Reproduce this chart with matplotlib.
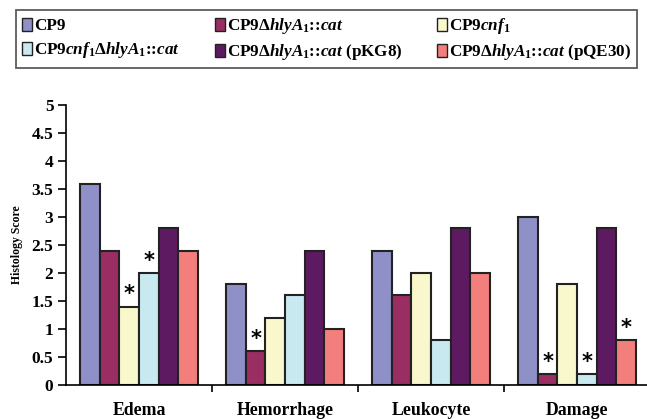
import numpy as np
import matplotlib.pyplot as plt
from matplotlib.patches import Patch

plt.rcParams['font.family'] = 'Liberation Serif'
plt.rcParams['font.weight'] = 'bold'
plt.rcParams['axes.labelweight'] = 'bold'
plt.rcParams['mathtext.fontset'] = 'custom'
plt.rcParams['mathtext.rm'] = 'Liberation Serif:bold'
plt.rcParams['mathtext.it'] = 'Liberation Serif:italic:bold'
plt.rcParams['mathtext.bf'] = 'Liberation Serif:bold'

categories = ["Edema", "Hemorrhage", "Leukocyte", "Damage"]
strains = [
    r"CP9",
    r"CP9$\Delta\mathit{hlyA}_1$::$\mathit{cat}$",
    r"CP9$\mathit{cnf}_1$",
    r"CP9$\mathit{cnf}_1\Delta\mathit{hlyA}_1$::$\mathit{cat}$",
    r"CP9$\Delta\mathit{hlyA}_1$::$\mathit{cat}$ (pKG8)",
    r"CP9$\Delta\mathit{hlyA}_1$::$\mathit{cat}$ (pQE30)",
]
scores = [
    [3.6, 1.8, 2.4, 3.0],
    [2.4, 0.6, 1.6, 0.2],
    [1.4, 1.2, 2.0, 1.8],
    [2.0, 1.6, 0.8, 0.2],
    [2.8, 2.4, 2.8, 2.8],
    [2.4, 1.0, 2.0, 0.8],
]
# (category, strain) pairs marked significant
significant = [(0, 2), (0, 3), (1, 1), (3, 1), (3, 3), (3, 5)]

colors = ["#9090c8", "#9a2e62", "#f9f7cc", "#c9e9f1", "#5e1a60", "#f27f7c"]

fig = plt.figure(figsize=(6.47, 4.19), dpi=100)
ax = fig.add_axes([0.102, 0.081, 0.9026, 0.668])

x = np.arange(len(categories))
width = 0.134
offsets = (np.arange(len(strains)) - 2.5) * width

for i, vals in enumerate(scores):
    ax.bar(x + offsets[i], vals, width, color=colors[i],
           edgecolor="#222222", linewidth=1.5)

for c, s in significant:
    ax.text(x[c] + offsets[s], scores[s][c] + 0.04, "*",
            ha="center", va="bottom", fontsize=15, family="DejaVu Sans",
            fontweight="bold")

ax.set_xlim(-0.5, 3.5)
ax.set_ylim(0, 5)
ax.set_yticks(np.arange(0, 5.01, 0.5))
ax.set_yticklabels(["0", "0.5", "1", "1.5", "2", "2.5", "3", "3.5", "4", "4.5", "5"],
                   fontsize=12.5, fontweight="bold")
ax.set_xticks(x + 0.5, minor=False)
ax.set_xticklabels([])
ax.set_xticks(x, minor=True)
ax.set_xticklabels(categories, minor=True, fontsize=12.8, fontweight="bold")
ax.tick_params(axis="x", which="minor", length=0, pad=12)
ax.tick_params(axis="x", which="major", length=5, width=1.2)
ax.tick_params(axis="y", length=6, width=1.2, pad=3)
ax.set_ylabel("Histology Score", fontsize=8.5, fontweight="bold", labelpad=6)

ax.spines["top"].set_visible(False)
ax.spines["right"].set_visible(False)
ax.spines["left"].set_linewidth(1.2)
ax.spines["bottom"].set_linewidth(1.2)

handles = [Patch(facecolor=colors[i], edgecolor="#222222", label=strains[i])
           for i in range(len(strains))]
order = [0, 3, 1, 4, 2, 5]
leg = fig.legend([handles[i] for i in order], [strains[i] for i in order],
                 loc="upper left", bbox_to_anchor=(0.025, 0.976, 0.96, 0.0),
                 mode="expand", ncol=3,
                 fontsize=12.3, frameon=True, fancybox=False,
                 handlelength=0.6, handleheight=0.8, handletextpad=0.1,
                 borderpad=0.35, labelspacing=0.35, borderaxespad=0)
leg.get_frame().set_edgecolor("#333333")
leg.get_frame().set_linewidth(1.3)

fig.savefig("out.png", dpi=100)
